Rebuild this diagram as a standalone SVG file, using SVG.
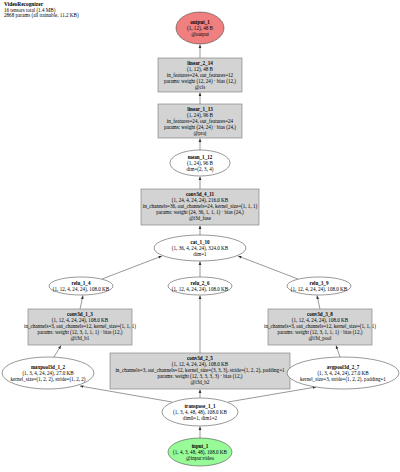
<svg xmlns="http://www.w3.org/2000/svg" width="400" height="472" viewBox="0 0 400 472">
<style>
text{font-family:"Liberation Serif","Times New Roman",serif;font-size:5.1px;text-anchor:middle;fill:#000}
.b{font-weight:bold}
.title{text-anchor:start}
.box{fill:#d3d3d3;stroke:#777;stroke-width:0.6}
.ell{fill:#fff;stroke:#333;stroke-width:0.5}
.out{fill:#f08080;stroke:#333;stroke-width:0.5}
.in{fill:#98fb98;stroke:#333;stroke-width:0.5}
.e{stroke:#333;stroke-width:0.5;fill:none;marker-end:url(#ah)}
</style>
<defs>
<marker id="ah" viewBox="0 0 10 10" refX="10" refY="5" markerWidth="3.5" markerHeight="3.5" markerUnits="userSpaceOnUse" orient="auto"><path d="M0,1 L10,5 L0,9 z" fill="#333"/></marker>
</defs>
<rect width="400" height="472" fill="#fff"/>
<g id="title">
<text class="title b" x="4" y="6" style="font-size:5.4px">VideoRecognizer</text>
<text class="title" x="4" y="11.5">16 tensors total (1.4 MB)</text>
<text class="title" x="4" y="16.5">2868 params (all trainable, 11.2 KB)</text>
</g>
<g id="edges">
<line class="e" x1="200" y1="438" x2="200" y2="426.5"/>
<line class="e" x1="172" y1="402" x2="80" y2="386"/>
<line class="e" x1="200" y1="398" x2="200" y2="389.5"/>
<line class="e" x1="228" y1="402" x2="316" y2="387"/>
<line class="e" x1="54" y1="357" x2="61" y2="345.5"/>
<line class="e" x1="340" y1="357" x2="336" y2="345.5"/>
<line class="e" x1="80" y1="309" x2="83" y2="295.5"/>
<line class="e" x1="200" y1="353" x2="200" y2="295.5"/>
<line class="e" x1="320" y1="309" x2="317" y2="295.5"/>
<line class="e" x1="102" y1="279" x2="162" y2="256"/>
<line class="e" x1="200" y1="277" x2="200" y2="261.5"/>
<line class="e" x1="298" y1="279" x2="238" y2="256"/>
<line class="e" x1="200" y1="235" x2="200" y2="225.5"/>
<line class="e" x1="200" y1="189" x2="200" y2="176.5"/>
<line class="e" x1="200" y1="150" x2="200" y2="138.5"/>
<line class="e" x1="200" y1="104" x2="200" y2="92.5"/>
<line class="e" x1="200" y1="58" x2="200" y2="44.5"/>
</g>
<g id="output_1">
<ellipse class="out" cx="200" cy="28" rx="24" ry="16"/>
<text class="b" x="200" y="23.7">output_1</text>
<text x="200" y="29.7">(1, 12), 48 B</text>
<text x="200" y="35.7">@output</text>
</g>
<g id="linear_2_14">
<rect class="box" x="158" y="58" width="84" height="34"/>
<text class="b" x="200" y="64.8">linear_2_14</text>
<text x="200" y="70.8">(1, 12), 48 B</text>
<text x="200" y="76.8">in_features=24, out_features=12</text>
<text x="200" y="82.8">params: weight (12, 24) · bias (12,)</text>
<text x="200" y="88.8">@cls</text>
</g>
<g id="linear_1_13">
<rect class="box" x="158" y="104" width="84" height="34"/>
<text class="b" x="200" y="110.8">linear_1_13</text>
<text x="200" y="116.8">(1, 24), 96 B</text>
<text x="200" y="122.8">in_features=24, out_features=24</text>
<text x="200" y="128.8">params: weight (24, 24) · bias (24,)</text>
<text x="200" y="134.8">@proj</text>
</g>
<g id="mean_1_12">
<ellipse class="ell" cx="200" cy="163" rx="30" ry="13"/>
<text class="b" x="200" y="158.7">mean_1_12</text>
<text x="200" y="164.7">(1, 24), 96 B</text>
<text x="200" y="170.7">dim=(2, 3, 4)</text>
</g>
<g id="conv3d_4_11">
<rect class="box" x="141" y="189" width="118" height="36"/>
<text class="b" x="200" y="196">conv3d_4_11</text>
<text x="200" y="202">(1, 24, 4, 24, 24), 216.0 KB</text>
<text x="200" y="208">in_channels=36, out_channels=24, kernel_size=(1, 1, 1)</text>
<text x="200" y="214">params: weight (24, 36, 1, 1, 1) · bias (24,)</text>
<text x="200" y="220">@i3d_fuse</text>
</g>
<g id="cat_1_10">
<ellipse class="ell" cx="200" cy="248" rx="46" ry="13"/>
<text class="b" x="200" y="243.7">cat_1_10</text>
<text x="200" y="249.7">(1, 36, 4, 24, 24), 324.0 KB</text>
<text x="200" y="255.7">dim=1</text>
</g>
<g id="relu_1_4">
<ellipse class="ell" cx="81" cy="286" rx="32" ry="9"/>
<text class="b" x="81" y="284.6">relu_1_4</text>
<text x="81" y="290.6">(1, 12, 4, 24, 24), 108.0 KB</text>
</g>
<g id="relu_2_6">
<ellipse class="ell" cx="200" cy="286" rx="32" ry="9"/>
<text class="b" x="200" y="284.6">relu_2_6</text>
<text x="200" y="290.6">(1, 12, 4, 24, 24), 108.0 KB</text>
</g>
<g id="relu_3_9">
<ellipse class="ell" cx="319" cy="286" rx="32" ry="9"/>
<text class="b" x="319" y="284.6">relu_3_9</text>
<text x="319" y="290.6">(1, 12, 4, 24, 24), 108.0 KB</text>
</g>
<g id="conv3d_1_3">
<rect class="box" x="28" y="309" width="104" height="36"/>
<text class="b" x="80" y="316">conv3d_1_3</text>
<text x="80" y="322">(1, 12, 4, 24, 24), 108.0 KB</text>
<text x="80" y="328">in_channels=3, out_channels=12, kernel_size=(1, 1, 1)</text>
<text x="80" y="334">params: weight (12, 3, 1, 1, 1) · bias (12,)</text>
<text x="80" y="340">@i3d_b1</text>
</g>
<g id="conv3d_3_8">
<rect class="box" x="268" y="309" width="104" height="36"/>
<text class="b" x="320" y="316">conv3d_3_8</text>
<text x="320" y="322">(1, 12, 4, 24, 24), 108.0 KB</text>
<text x="320" y="328">in_channels=3, out_channels=12, kernel_size=(1, 1, 1)</text>
<text x="320" y="334">params: weight (12, 3, 1, 1, 1) · bias (12,)</text>
<text x="320" y="340">@i3d_pool</text>
</g>
<g id="maxpool3d_1_2">
<ellipse class="ell" cx="48" cy="373" rx="46" ry="16"/>
<text class="b" x="48" y="368.7">maxpool3d_1_2</text>
<text x="48" y="374.7">(1, 3, 4, 24, 24), 27.0 KB</text>
<text x="48" y="380.7">kernel_size=(1, 2, 2), stride=(1, 2, 2)</text>
</g>
<g id="conv3d_2_5">
<rect class="box" x="110" y="353" width="180" height="36"/>
<text class="b" x="200" y="360">conv3d_2_5</text>
<text x="200" y="366">(1, 12, 4, 24, 24), 108.0 KB</text>
<text x="200" y="372">in_channels=3, out_channels=12, kernel_size=(3, 3, 3), stride=(1, 2, 2), padding=1</text>
<text x="200" y="378">params: weight (12, 3, 3, 3, 3) · bias (12,)</text>
<text x="200" y="384">@i3d_b2</text>
</g>
<g id="avgpool3d_2_7">
<ellipse class="ell" cx="343" cy="373" rx="56" ry="16"/>
<text class="b" x="343" y="368.7">avgpool3d_2_7</text>
<text x="343" y="374.7">(1, 3, 4, 24, 24), 27.0 KB</text>
<text x="343" y="380.7">kernel_size=3, stride=(1, 2, 2), padding=1</text>
</g>
<g id="transpose_1_1">
<ellipse class="ell" cx="200" cy="412" rx="38" ry="14"/>
<text class="b" x="200" y="407.7">transpose_1_1</text>
<text x="200" y="413.7">(1, 3, 4, 48, 48), 108.0 KB</text>
<text x="200" y="419.7">dim0=1, dim1=2</text>
</g>
<g id="input_1">
<ellipse class="in" cx="200" cy="452" rx="32" ry="14"/>
<text class="b" x="200" y="447.7">input_1</text>
<text x="200" y="453.7">(1, 4, 3, 48, 48), 108.0 KB</text>
<text x="200" y="459.7">@input:video</text>
</g>
</svg>
